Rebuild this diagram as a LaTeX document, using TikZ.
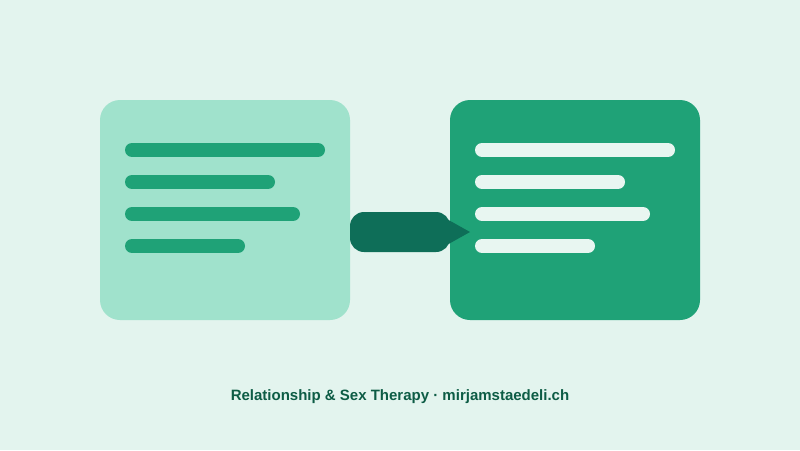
\documentclass[tikz,border=0pt]{standalone}
\usepackage{fontspec}
\setmainfont{Liberation Sans}
\definecolor{bg}{HTML}{E3F4EE}
\definecolor{light}{HTML}{A0E2CC}
\definecolor{mid}{HTML}{1FA277}
\definecolor{dark}{HTML}{0E6E58}
\definecolor{pale}{HTML}{E8F6F1}
\definecolor{txt}{HTML}{0D5C45}
\begin{document}
\begin{tikzpicture}[x=1pt,y=-1pt,
  card/.style={rounded corners=20pt},
  bar/.style={line width=14pt,line cap=round}]
\fill[bg] (0,0) rectangle (800,450);
\useasboundingbox (0,0) rectangle (800,450);
\fill[light,card] (100,100) rectangle (350,320);
\fill[mid,card] (450,100) rectangle (700,320);
\foreach \y/\e in {150/325,182/275,214/300,246/245}{
  \draw[bar,mid] (132,\y) -- (\e-7,\y);
  \draw[bar,pale] (482,\y) -- (\e+343,\y);
}
\fill[dark,rounded corners=14pt] (350,212) rectangle (450,252);
\fill[dark] (445,218) -- (470,232) -- (445,246) -- cycle;
\node[font=\bfseries\fontsize{15pt}{18pt}\selectfont,text=txt] (cap) at (400,397) {Relationship \& Sex Therapy · mirjamstaedeli.ch};
\end{tikzpicture}
\end{document}
